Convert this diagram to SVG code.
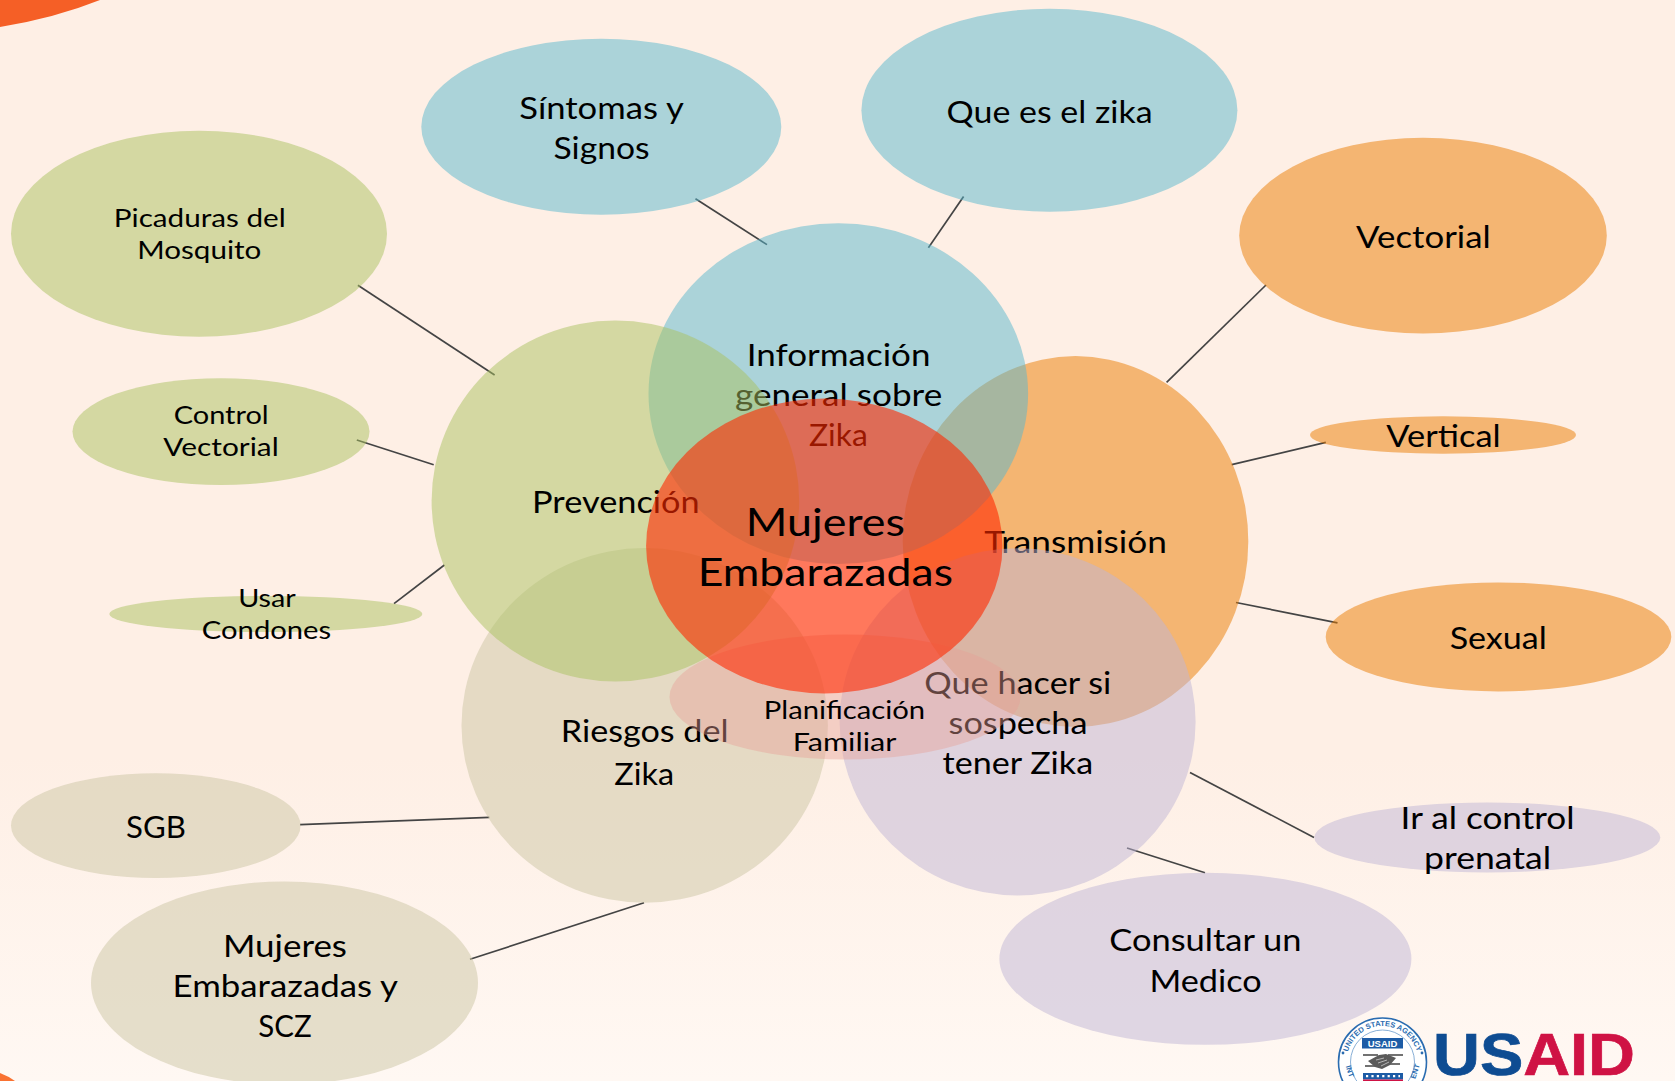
<svg xmlns="http://www.w3.org/2000/svg" width="1675" height="1081" viewBox="0 0 1675 1081">
<style>
text{font-family:Lato,"Liberation Sans",sans-serif;fill:#000;text-anchor:middle}
.b{font-size:30.5px}.s{font-size:24.5px}.c{font-size:38.5px}
.blue{fill:#58b8ce;fill-opacity:.5}.green{fill:#aac260;fill-opacity:.5}.orange{fill:#ea7c00;fill-opacity:.5}.beige{fill:#ccc6a4;fill-opacity:.5}.lilac{fill:#c0b6d6;fill-opacity:.5}.pink{fill:#e8a095;fill-opacity:.42}.red{fill:#ff2800;fill-opacity:.6}
.conn line{stroke:#444;stroke-width:1.7}
.logo{font-family:"Liberation Sans",sans-serif;font-weight:700}
.ring{font-size:7.5px;fill:#2a6cb0}
</style>
<defs>
<linearGradient id="bg" x1="0" y1="0" x2="0" y2="1"><stop offset="0" stop-color="#feefe5"/><stop offset=".7" stop-color="#feefe5"/><stop offset="1" stop-color="#fff8f3"/></linearGradient>
<path id="ringTop" d="M1346.5 1062A36 36 0 0 1 1418.5 1062"/>
</defs>
<rect width="1675" height="1081" fill="url(#bg)"/>
<path d="M0 0H100Q55 18 0 27Z" fill="#f55f26"/>
<path d="M0 1073Q8 1076 15 1081H0Z" fill="#f97232"/>

<g id="connectors" class="conn">
<line x1="695.5" y1="198.7" x2="767" y2="244.6"/>
<line x1="963.6" y1="196.6" x2="928.4" y2="247.8"/>
<line x1="357.9" y1="285.2" x2="494.6" y2="375"/>
<line x1="356.8" y1="440" x2="433.7" y2="464.7"/>
<line x1="394" y1="603.6" x2="444.4" y2="565"/>
<line x1="300" y1="824.7" x2="489.3" y2="817.3"/>
<line x1="470" y1="959.3" x2="644" y2="902.7"/>
<line x1="1166.6" y1="382.4" x2="1266" y2="285"/>
<line x1="1231.7" y1="464.7" x2="1325.8" y2="442.3"/>
<line x1="1236" y1="602.5" x2="1337.5" y2="622.8"/>
<line x1="1190" y1="772.4" x2="1314" y2="837.5"/>
<line x1="1127" y1="848" x2="1205" y2="872.8"/>
</g>

<g id="sintomas"><ellipse class="blue" cx="601.3" cy="126.8" rx="180" ry="88"/><text class="b" x="601.5" y="118.7" textLength="164.5" lengthAdjust="spacingAndGlyphs">Síntomas y</text><text class="b" x="601.5" y="159.2" textLength="96" lengthAdjust="spacingAndGlyphs">Signos</text></g>
<g id="que-es"><ellipse class="blue" cx="1049.4" cy="110.2" rx="188" ry="101.5"/><text class="b" x="1049.6" y="123" textLength="206" lengthAdjust="spacingAndGlyphs">Que es el zika</text></g>
<g id="picaduras"><ellipse class="green" cx="199" cy="233.7" rx="188" ry="103"/><text class="s" x="199.8" y="227.2" textLength="172" lengthAdjust="spacingAndGlyphs">Picaduras del</text><text class="s" x="199.3" y="258.5" textLength="124" lengthAdjust="spacingAndGlyphs">Mosquito</text></g>
<g id="control-vectorial"><ellipse class="green" cx="221" cy="431.6" rx="148.5" ry="53.4"/><text class="s" x="221.2" y="423.7" textLength="95" lengthAdjust="spacingAndGlyphs">Control</text><text class="s" x="221" y="455.7" textLength="115.4" lengthAdjust="spacingAndGlyphs">Vectorial</text></g>
<g id="usar-condones"><ellipse class="green" cx="265.8" cy="614" rx="156.5" ry="18"/><text class="s" x="267" y="607" textLength="57.7" lengthAdjust="spacingAndGlyphs">Usar</text><text class="s" x="266.5" y="639" textLength="129.3" lengthAdjust="spacingAndGlyphs">Condones</text></g>
<g id="sgb"><ellipse class="beige" cx="155.8" cy="825.6" rx="144.8" ry="52.3"/><text class="b" x="156" y="837.7" textLength="59.8" lengthAdjust="spacingAndGlyphs">SGB</text></g>
<g id="mujeres-scz"><ellipse class="beige" cx="284.5" cy="983" rx="193.5" ry="101.5"/><text class="b" x="285" y="957.3" textLength="124" lengthAdjust="spacingAndGlyphs">Mujeres</text><text class="b" x="285.3" y="996.8" textLength="225.4" lengthAdjust="spacingAndGlyphs">Embarazadas y</text><text class="b" x="285" y="1037" textLength="53.4" lengthAdjust="spacingAndGlyphs">SCZ</text></g>
<g id="vectorial"><ellipse class="orange" cx="1423" cy="235.6" rx="183.8" ry="97.8"/><text class="b" x="1423.4" y="247.9" textLength="134.6" lengthAdjust="spacingAndGlyphs">Vectorial</text></g>
<g id="vertical"><ellipse class="orange" cx="1443" cy="435" rx="133" ry="18.7"/><text class="b" x="1443.5" y="446.6" textLength="114.3" lengthAdjust="spacingAndGlyphs">Vertical</text></g>
<g id="sexual"><ellipse class="orange" cx="1498.5" cy="636.9" rx="172.8" ry="54.5"/><text class="b" x="1498.3" y="648.5" textLength="97.2" lengthAdjust="spacingAndGlyphs">Sexual</text></g>
<g id="control-prenatal"><ellipse class="lilac" cx="1487.3" cy="837.5" rx="173" ry="35"/><text class="b" x="1487.6" y="829" textLength="174" lengthAdjust="spacingAndGlyphs">Ir al control</text><text class="b" x="1487.6" y="868.7" textLength="127" lengthAdjust="spacingAndGlyphs">prenatal</text></g>
<g id="consultar"><ellipse class="lilac" cx="1205.4" cy="958.8" rx="206" ry="86"/><text class="b" x="1205.4" y="950.9" textLength="192.3" lengthAdjust="spacingAndGlyphs">Consultar un</text><text class="b" x="1205.6" y="991.5" textLength="112.2" lengthAdjust="spacingAndGlyphs">Medico</text></g>

<g id="transmision"><ellipse class="orange" cx="1075.5" cy="541.5" rx="172.8" ry="185.4"/><text class="b" x="1075.6" y="553.4" textLength="182.7" lengthAdjust="spacingAndGlyphs">Transmisión</text></g>
<g id="que-hacer"><ellipse class="lilac" cx="1017.6" cy="721.8" rx="178" ry="173.6"/><text class="b" x="1017.8" y="694.4" textLength="187" lengthAdjust="spacingAndGlyphs">Que hacer si</text><text class="b" x="1018" y="734" textLength="138.9" lengthAdjust="spacingAndGlyphs">sospecha</text><text class="b" x="1017.8" y="773.5" textLength="150.6" lengthAdjust="spacingAndGlyphs">tener Zika</text></g>
<g id="riesgos"><ellipse class="beige" cx="644.7" cy="725.4" rx="183.2" ry="177.3"/><text class="b" x="644.7" y="741.5" textLength="167.7" lengthAdjust="spacingAndGlyphs">Riesgos del</text><text class="b" x="644.2" y="785.2" textLength="59.8" lengthAdjust="spacingAndGlyphs">Zika</text></g>
<g id="informacion"><ellipse class="blue" cx="838.3" cy="393.7" rx="189.8" ry="170.4"/><text class="b" x="838.6" y="366.4" textLength="183.8" lengthAdjust="spacingAndGlyphs">Información</text><text class="b" x="838.6" y="406" textLength="207.2" lengthAdjust="spacingAndGlyphs">general sobre</text><text class="b" x="838.4" y="445.6" textLength="58.8" lengthAdjust="spacingAndGlyphs">Zika</text></g>
<g id="prevencion"><ellipse class="green" cx="615.4" cy="501" rx="183.8" ry="180.5"/><text class="b" x="615.9" y="512.9" textLength="167.7" lengthAdjust="spacingAndGlyphs">Prevención</text></g>
<g id="planificacion"><ellipse class="pink" cx="845" cy="697" rx="175.5" ry="62.5"/><text class="s" x="844.5" y="718.8" textLength="161.3" lengthAdjust="spacingAndGlyphs">Planificación</text><text class="s" x="844.5" y="751" textLength="103.6" lengthAdjust="spacingAndGlyphs">Familiar</text></g>
<g id="mujeres"><ellipse class="red" cx="824.3" cy="546" rx="178.2" ry="147.4"/><text class="c" x="825.3" y="535.6" textLength="159.2" lengthAdjust="spacingAndGlyphs">Mujeres</text><text class="c" x="825.3" y="586.4" textLength="255.3" lengthAdjust="spacingAndGlyphs">Embarazadas</text></g>

<g id="usaid-logo">
<circle cx="1382.5" cy="1062" r="44" fill="#fff" stroke="#2a6cb0" stroke-width="1.6"/>
<circle cx="1382.5" cy="1062" r="32" fill="#fff" stroke="#6a9bcb" stroke-width=".8"/>
<text class="logo ring"><textPath href="#ringTop" startOffset="50%">UNITED STATES AGENCY</textPath></text>
<circle cx="1343" cy="1053" r="1.4" fill="#2a6cb0"/><circle cx="1422" cy="1053" r="1.4" fill="#2a6cb0"/>
<rect x="1362" y="1038" width="41" height="10.5" fill="#1d5ca6"/>
<text class="logo" x="1382.5" y="1047" font-size="9.5" style="fill:#fff">USAID</text>
<path d="M1363 1055H1378M1388 1055H1403M1365 1066H1376M1390 1064H1400" stroke="#444" stroke-width="1.3" fill="none"/>
<path d="M1368 1061L1379 1055L1386 1054L1396 1058L1390 1065L1382 1069L1375 1067Z" fill="#5a5a5a"/>
<path d="M1376 1060L1384 1058M1378 1063L1387 1060M1381 1066L1389 1062" stroke="#ddd" stroke-width=".7" fill="none"/>
<rect x="1363" y="1073" width="40" height="6.5" fill="#1d5ca6"/>
<rect x="1363" y="1079.5" width="40" height="1.5" fill="#cf1244"/>
<path d="M1366 1076.2h34" stroke="#fff" stroke-width="2.2" stroke-dasharray="2.2 3.2" fill="none"/>
<text class="logo ring" x="1347.5" y="1072" transform="rotate(72 1347.5 1072)">INT</text>
<text class="logo ring" x="1417.5" y="1072" transform="rotate(-72 1417.5 1072)">ENT</text>
<text class="logo" x="1433" y="1075" font-size="60" textLength="202" lengthAdjust="spacingAndGlyphs" style="text-anchor:start;fill:#0e4c92;stroke:#0e4c92;stroke-width:.7"><tspan>US</tspan><tspan style="fill:#cf1244;stroke:#cf1244">AID</tspan></text>
</g>
</svg>
